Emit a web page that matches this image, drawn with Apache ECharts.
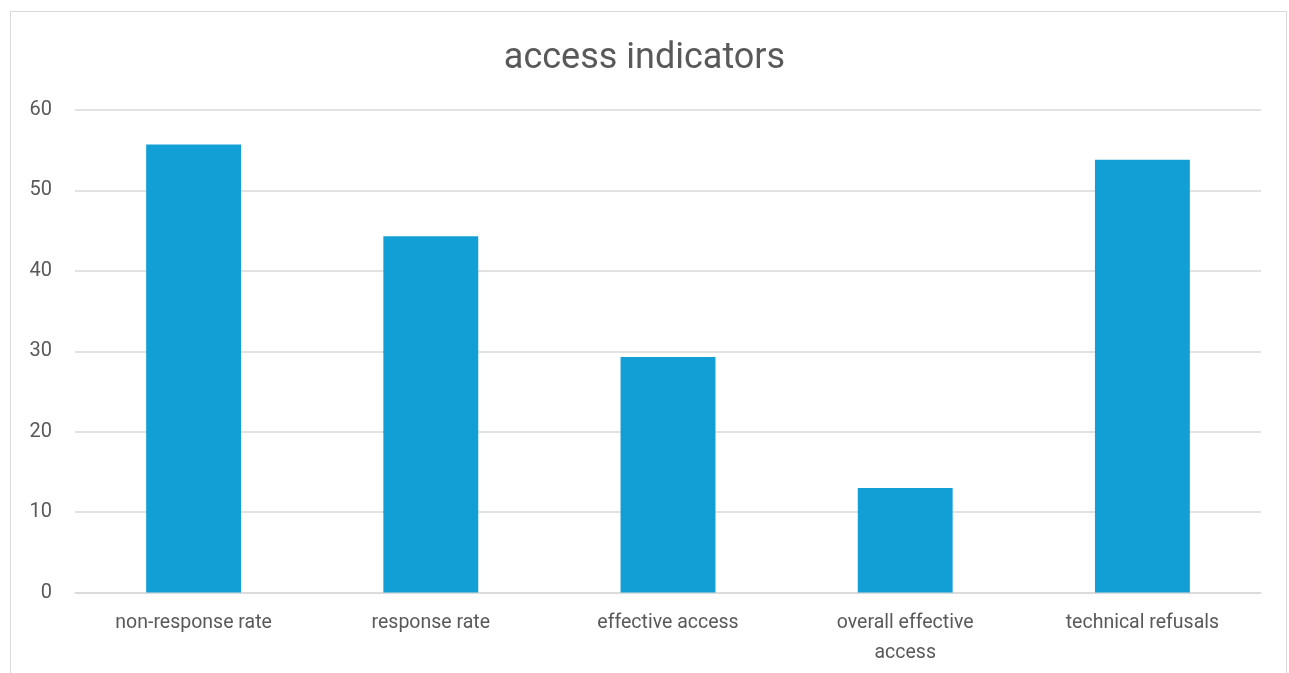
<!DOCTYPE html>
<html>
<head>
<meta charset="utf-8">
<script src="https://cdn.jsdelivr.net/npm/echarts@6/dist/echarts.min.js"></script>
<style>
	html, body { margin: 0; padding: 0; background: #fff; }
	#frame { position: absolute; left: 10px; top: 11px; width: 1277px; height: 700px; border: 1px solid #d9d9d9; box-sizing: border-box; }
	#main { position: absolute; left: 0; top: 0; width: 1289px; height: 673px; }
</style>
</head>
<body>
<div id="frame"></div>
<div id="main"></div>
<script>
var categories = ['non-response rate', 'response rate', 'effective access', 'overall effective\naccess', 'technical refusals'];
var values = [55.7, 44.3, 29.3, 13.0, 53.8];
var yTicks = [0, 10, 20, 30, 40, 50, 60];

var FONT = 'Roboto, "Liberation Sans", sans-serif';
var TEXT_COLOR = '#595959';
var LINE_COLOR = '#d9d9d9';

var myChart = echarts.init(document.getElementById('main'));
var option = {
	animation: false,
	title: {
		text: 'access indicators',
		left: 'center',
		top: 36,
		textStyle: {
			fontFamily: FONT,
			fontSize: 36,
			fontWeight: 'normal',
			color: TEXT_COLOR
		}
	},
	grid: {
		left: 75,
		right: 28,
		top: 110,
		bottom: 80.5
	},
	xAxis: {
		type: 'category',
		data: categories,
		axisTick: { show: false },
		axisLine: { lineStyle: { color: LINE_COLOR, width: 1.5 } },
		axisLabel: {
			fontFamily: FONT,
			fontSize: 19.5,
			color: TEXT_COLOR,
			margin: 16,
			lineHeight: 30
		}
	},
	yAxis: {
		type: 'value',
		min: yTicks[0],
		max: yTicks[yTicks.length - 1],
		interval: 10,
		axisLine: { show: false },
		axisTick: { show: false },
		splitLine: { lineStyle: { color: LINE_COLOR, width: 1.5 } },
		axisLabel: {
			fontFamily: FONT,
			fontSize: 20,
			color: TEXT_COLOR,
			margin: 23
		}
	},
	series: [{
		type: 'bar',
		data: values,
		barWidth: '40%',
		itemStyle: { color: '#129fd6' }
	}]
};
myChart.setOption(option);
</script>
</body>
</html>
